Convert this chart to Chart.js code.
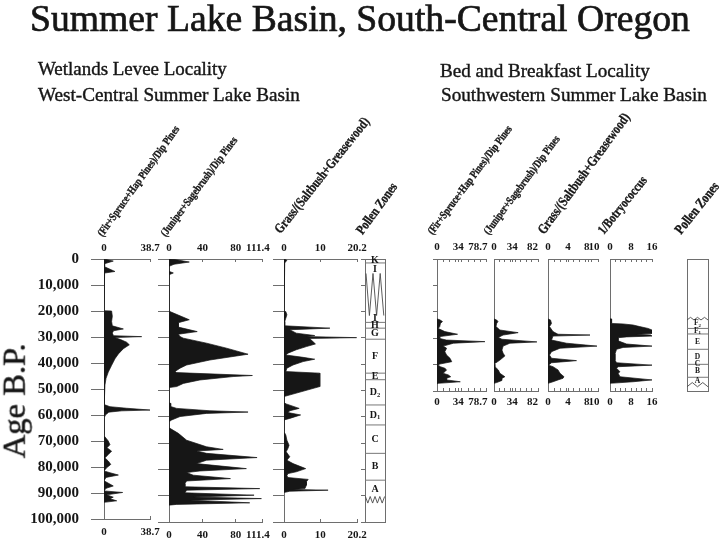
<!DOCTYPE html>
<html><head><meta charset="utf-8">
<script src="https://cdn.jsdelivr.net/npm/chart.js@4.4.1/dist/chart.umd.min.js"></script>
<style>
html,body{margin:0;padding:0;background:#fff;}
#wrap{position:relative;width:720px;height:540px;overflow:hidden;background:#fff;}
#wrap canvas{position:absolute;left:0;top:0;}
.t{position:absolute;white-space:nowrap;color:#161616;font-family:"Liberation Serif","Times New Roman",serif;line-height:1;}
</style></head>
<body><div id="wrap"></div>
<script>
// ---------------- DATA ----------------
const AGE_TICKS_L = [0,10000,20000,30000,40000,50000,60000,70000,80000,90000,100000];
const AGE_TICKS_R = [0,10000,20000,30000,40000,50000];

// Wetlands Levee: (Fir+Spruce+Hap Pines)/Dip Pines
const L1_AGE = [0,800,1800,3000,4800,5400,5800,19900,20000,22000,24000,25700,26900,27600,28500,29500,29860,30200,31000,32000,33000,34500,36500,38400,40900,43500,45900,48500,51000,56000,56800,57400,58100,58400,58900,60000,61200,68000,68900,70000,71400,72600,73900,75200,76500,77700,79000,80300,81500,82200,83100,84000,85300,87300,88200,89200,89800,90700,91600,92200,93000,93600];
const L1_VAL = [0,7.8,0.5,0.5,9.2,0.5,0,0,6.4,7.0,6.4,7.0,16.3,8,7,8,31.7,9,14,19,21.3,16.3,12.1,9.2,6.4,3.6,1.7,0.8,0.3,0,5,19,38.7,15,4,1.2,0,0,1.7,3.6,5.0,2.5,6.4,3.6,0.8,3.6,5.7,2.2,0,5,12.1,1.7,0,7.8,1.7,0,15.7,2.2,7.8,5,10.7,0];
const L1_TICKS = [0,38.7];
const L1_TICK_LABELS = ['0','38.7'];

// Wetlands Levee: (Juniper+Sagebrush)/Dip Pines
const L2_AGE = [0,300,1150,2000,2800,4700,5300,6000,19900,20000,23100,24200,25900,27600,28600,29500,30100,32000,33900,36200,38400,40300,41500,42800,43200,44300,44700,46000,47300,48500,48900,54500,54900,56100,56800,57700,58200,58700,59900,61200,61900,64300,64400,66300,68900,71400,72400,73000,73900,75500,76500,77800,79700,80600,81200,82200,83500,84400,85400,86600,87300,87900,88900,89800,90500,91100,91700,92700,93300,93600];
const L2_VAL = [0,9,24.3,6,0,0,5.2,0,0,1.2,24.3,11.2,11.2,33.8,11.2,13.2,17.2,45,68.9,94.7,49,21.1,13.2,7.2,9.2,99.9,76.8,37,17.2,9.2,0,0,2,2,9.2,49,94.7,45,13.2,3.2,0,0,1.2,11.2,21.1,45,64.9,33,45,105.5,45,33,92.7,37,21.1,29.1,73.6,21.1,19.1,19.1,108.7,21.1,19.1,101.9,29.1,110.7,25.1,96.7,9.2,0];
const L2_TICKS = [0,40,80,111.4];
const L2_TICK_LABELS = ['0','40','80','111.4'];

// Wetlands Levee: Grass/(Saltbush+Greasewood)
const L3_AGE = [0,500,1500,1800,19900,20000,21200,22500,23800,25400,26300,26900,28200,29100,29500,29900,30200,31400,32300,33300,34500,35800,36500,37400,38100,39000,40300,41500,42800,43400,48500,52300,54600,55100,56800,57700,58400,59300,60600,61200,65700,66900,68900,70800,72000,73300,75200,76500,77800,79700,80900,81600,82400,83100,83800,84700,86000,87300,87600,87900,88300,88800];
const L3_VAL = [0,0.8,0.2,0,0,0.5,0.8,0.5,0.2,0.2,12.7,1.6,3.4,8.5,6.2,20.1,7.1,8.0,8.7,6.2,3.4,1.1,0.5,5.3,8.5,5.3,2.5,0.8,0.5,9.9,9.9,0,0,0.6,4.2,1.6,1.1,4.6,1.6,0,0,0.5,0.8,1.4,1.1,0.6,1.6,0.8,2.5,6.0,3.4,1.1,0.8,1.1,6.7,6.2,6.2,5.8,2.5,12.2,1.6,0];
const L3_TICKS = [0,10,20.2];
const L3_TICK_LABELS = ['0','10','20.2'];

// Wetlands Levee pollen zones
const LZ_BOUNDS = [1500,24100,26300,30500,43400,45900,55500,63100,73900,84100];
const LZ_NAMES = ['K','I','I','H','G','F','E','D','D','C','B','A'];
const LZ_SUBS = ['','','','','','','','2','1','','',''];
const LZ_NAME_AGES = [700,4000,22700,25200,28400,36900,44600,50700,59300,68500,79000,87700];
const LZ_GAP_X = [0.05,0.22,0.40,0.58,0.76,0.94];
const LZ_GAP_AGE = [5500,21500,5500,21500,5500,21500];
const LZ_BASE_X = [0.02,0.14,0.26,0.38,0.5,0.62,0.74,0.86,0.98];
const LZ_BASE_AGE = [90300,92800,90300,92800,90300,92800,90300,92800,90300];

// Bed and Breakfast: (Fir+Spruce+Hap Pines)/Dip Pines
const R1_AGE = [22700,23000,23700,24400,25600,26300,27500,28500,29400,30100,30700,31300,31900,33000,33800,35100,36400,37600,38900,39800,40200,40800,41400,42000,43300,43900,44600,45200,45800,46500,47100,47300];
const R1_VAL = [0,4.4,8.8,5.5,4.4,2.0,12.6,33,4.4,4.4,15,77,26.4,9.9,15.4,12.6,15.4,20.9,23.7,4.4,2.0,5.5,12.6,15.4,9.9,18.2,22,15.4,15.4,37.4,1.6,0];
const R1_TICKS = [0,34,78.7];
const R1_TICK_LABELS = ['0','34','78.7'];
const R1_MINOR = [10,20,30,40,50,60,70];

// Bed and Breakfast: (Juniper+Sagebrush)/Dip Pines
const R2_AGE = [22700,23100,23700,24400,25600,26900,27900,28800,29700,30400,31400,31900,33000,34500,35700,36700,38300,39300,39800,40800,42000,43300,44600,45200,46000,46800,47100];
const R2_VAL = [0,4.9,7.4,5,3.7,11,45,17,8,14.8,80,29.6,17,14.8,17,20.3,11,3.7,0,1.8,8,11,20.3,15,14.8,5,0];
const R2_TICKS = [0,34,82];
const R2_TICK_LABELS = ['0','34','82'];
const R2_MINOR = [10,20,30,40,50,60,70];

// Bed and Breakfast: Grass/(Saltbush+Greasewood)
const R3_AGE = [22700,23100,24400,25600,27500,28500,28800,29200,30700,31900,33000,33800,35100,36400,37600,38500,39300,40200,40800,42000,43300,44600,45200,45800,46500,47100];
const R3_VAL = [0,0.5,0.7,0.3,1.0,2.0,8.4,1.0,0.7,3.7,9.8,2.4,0.7,0.3,0.7,5.7,0.7,0.1,1.0,2.0,2.4,3.2,3.0,2.0,1.0,0];
const R3_TICKS = [0,4,8,10];
const R3_TICK_LABELS = ['0','4','8','10'];
const R3_MINOR = [1.25,2.5,3.75,5,6.25,7.5,8.75];

// Bed and Breakfast: 1/Botryococcus
const R4_AGE = [22600,22700,24400,24600,25000,25600,26300,26900,28200,28500,28800,29200,29500,29800,31000,32200,33000,33500,34200,36000,38300,39300,40200,40800,41400,42700,43300,44600,45800,46500,47100];
const R4_VAL = [0,0.6,0.6,5,8.8,11.3,14.5,16,16,10,15.5,16,6.3,3.1,3.1,6.3,16,5,2.5,1.9,1.9,2.5,16,3.1,2.5,3.8,3.1,3.8,16,8.8,0];
const R4_TICKS = [0,8,16];
const R4_TICK_LABELS = ['0','8','16'];
const R4_MINOR = [2,4,6,10,12,14];

// Bed and Breakfast pollen zones
const RZ_BOUNDS = [26300,28400,34200,39900,44800];
const RZ_NAMES = ['F','F','E','D','C','B','A'];
const RZ_SUBS = ['2','1','','','','',''];
const RZ_NAME_AGES = [24400,27300,31300,37000,39900,42500,46300];
const RZ_TOP_X = [0,0.167,0.333,0.5,0.667,0.833,1];
const RZ_TOP_AGE = [23100,22100,23100,22100,23100,22100,23100];
const RZ_BOT_X = [0,0.25,0.5,0.75,1];
const RZ_BOT_AGE = [48400,46800,48400,46800,48400];

// ---------------- DRAWING ----------------
const wrap = document.getElementById('wrap');
const FONT = '"Liberation Serif", "Times New Roman", serif';
const INK = '#161616';
const AXIS = '#6e6e6e';

function newCanvas(){
  const c = document.createElement('canvas');
  c.width = 720; c.height = 540;
  c.style.width = '720px'; c.style.height = '540px';
  wrap.appendChild(c);
  return c;
}
function setTicks(values){ return s => { s.ticks = values.map(v => ({value: v})); }; }

function xAxis(p, pos){
  const isTop = pos === 'top';
  const shift = p.labelShift || {};
  const lab = new Map(p.tickVals.map((v,i) => [v, p.tickLabels[i] + ' '.repeat(shift[i] || 0)]));
  const all = p.minor ? p.tickVals.concat(p.minor).sort((a,b)=>a-b) : p.tickVals;
  return {
    type:'linear', position:pos, min:0, max:p.xmax,
    afterBuildTicks: setTicks(all),
    afterFit: s => { s.height = isTop ? p.top : 540 - p.bottom; },
    ticks:{autoSkip:false, maxRotation:0, minRotation:0, padding: isTop ? p.padTop : p.padBot,
      color:INK, font:{family:FONT, size:11, weight:'bold'},
      callback: v => lab.has(v) ? lab.get(v) : ''},
    grid:{drawOnChartArea:false, drawTicks:true, tickLength:-3, color:AXIS, lineWidth:1},
    border:{display:true, color:AXIS, width:1}
  };
}
function yAxis(p){
  return {
    type:'linear', position:'left', reverse:true, min:0, max:p.ymax,
    afterBuildTicks: setTicks(p.yTicks),
    afterFit: s => { s.width = p.left; },
    ticks:{display:!!p.yLabels, padding:12, color:INK, font:{family:FONT, size:15, weight:'bold'},
      callback: v => v.toLocaleString('en-US')},
    grid:{drawOnChartArea:false, drawTicks:p.yTick>0, tickLength:p.yTick||0, color:AXIS},
    border:{display:true, color:AXIS}
  };
}
function profile(p){
  const c = newCanvas();
  const data = p.ages.map((a,i) => ({x:p.vals[i], y:a}));
  return new Chart(c, {
    type:'line',
    data:{datasets:[{data, xAxisID:'x', yAxisID:'y', borderColor:INK, backgroundColor:INK,
      borderWidth:0.7, fill:'origin', pointRadius:0, tension:0}]},
    options:{
      indexAxis:'y', responsive:false, animation:false, devicePixelRatio:1,
      layout:{padding:{left:0, top:0, bottom:0, right:720 - p.right}},
      plugins:{legend:{display:false}, tooltip:{enabled:false}},
      scales:{x:xAxis(p,'top'), x2:xAxis(p,'bottom'), y:yAxis(p)}
    }
  });
}
function zones(p){
  const c = newCanvas();
  const ds = [];
  p.bounds.forEach(a => ds.push({data:[{x:0,y:a},{x:1,y:a}], borderColor:'#787878', borderWidth:1, pointRadius:0, fill:false}));
  p.zig.forEach(z => ds.push({data:z.x.map((x,i)=>({x, y:z.y[i]})), borderColor:'#4a4a4a', borderWidth:0.9, pointRadius:0, fill:false}));
  const labelPlugin = {id:'zoneLabels', afterDatasetsDraw(chart){
    const ctx = chart.ctx, xs = chart.scales.x, ys = chart.scales.y;
    ctx.save(); ctx.fillStyle = INK; ctx.textBaseline = 'middle';
    p.names.forEach((n,i) => {
      const py = ys.getPixelForValue(p.nameAges[i]);
      const cx = xs.getPixelForValue(0.5);
      ctx.font = 'bold ' + p.fs + 'px ' + FONT;
      const w1 = ctx.measureText(n).width;
      const sub = p.subs[i];
      let w2 = 0;
      if (sub){ ctx.font = 'bold ' + (p.fs*0.65) + 'px ' + FONT; w2 = ctx.measureText(sub).width; }
      const x0 = cx - (w1 + w2)/2;
      ctx.textAlign = 'left';
      ctx.font = 'bold ' + p.fs + 'px ' + FONT;
      ctx.fillText(n, x0, py);
      if (sub){ ctx.font = 'bold ' + (p.fs*0.65) + 'px ' + FONT; ctx.fillText(sub, x0 + w1, py + p.fs*0.25); }
    });
    ctx.restore();
  }};
  const frame = (pos, h) => ({type:'linear', position:pos, min:0, max:1, afterFit: s => { s.height = h; },
    ticks:{display:false}, grid:{drawOnChartArea:false, drawTicks:false}, border:{display:true, color:AXIS}});
  return new Chart(c, {
    type:'line',
    data:{datasets:ds},
    options:{
      responsive:false, animation:false, devicePixelRatio:1,
      layout:{padding:0},
      plugins:{legend:{display:false}, tooltip:{enabled:false}},
      scales:{
        x: frame('top', p.top),
        x2: frame('bottom', 540 - p.bottom),
        y: {type:'linear', position:'left', reverse:true, min:0, max:p.ymax,
            afterBuildTicks: setTicks(p.yTicks), afterFit: s => { s.width = p.left; },
            ticks:{display:false}, grid:{drawOnChartArea:false, drawTicks:p.yTick>0, tickLength:p.yTick||0, color:AXIS},
            border:{display:true, color:AXIS}},
        y2: {type:'linear', position:'right', reverse:true, min:0, max:p.ymax,
            afterFit: s => { s.width = 720 - p.right; },
            ticks:{display:false}, grid:{drawOnChartArea:false, drawTicks:false}, border:{display:true, color:AXIS}}
      }
    },
    plugins:[labelPlugin]
  });
}

const LT = {top:259, bottom:522, ymax:100000, yTicks:AGE_TICKS_L, padTop:7.4, padBot:9.4};
const RT = {top:259, bottom:391, ymax:50000, yTicks:AGE_TICKS_R, padTop:8.4, padBot:7.4};

profile(Object.assign({}, LT, {left:104, right:150, xmax:38.7, ages:L1_AGE, vals:L1_VAL, tickVals:L1_TICKS, tickLabels:L1_TICK_LABELS, yTick:13, yLabels:true}));
profile(Object.assign({}, LT, {left:169, right:262, xmax:111.4, ages:L2_AGE, vals:L2_VAL, tickVals:L2_TICKS, tickLabels:L2_TICK_LABELS, yTick:11, labelShift:{3:3}}));
profile(Object.assign({}, LT, {left:284, right:357, xmax:20.2, ages:L3_AGE, vals:L3_VAL, tickVals:L3_TICKS, tickLabels:L3_TICK_LABELS, yTick:11}));
zones(Object.assign({}, LT, {left:365, right:385, yTick:4, bounds:LZ_BOUNDS, names:LZ_NAMES, subs:LZ_SUBS, nameAges:LZ_NAME_AGES, fs:10,
  zig:[{x:LZ_GAP_X, y:LZ_GAP_AGE},{x:LZ_BASE_X, y:LZ_BASE_AGE}]}));

profile(Object.assign({}, RT, {left:437, right:486, xmax:78.7, ages:R1_AGE, vals:R1_VAL, tickVals:R1_TICKS, tickLabels:R1_TICK_LABELS, minor:R1_MINOR, yTick:4, labelShift:{2:6}}));
profile(Object.assign({}, RT, {left:494, right:538, xmax:82, ages:R2_AGE, vals:R2_VAL, tickVals:R2_TICKS, tickLabels:R2_TICK_LABELS, minor:R2_MINOR, yTick:0, labelShift:{2:4}}));
profile(Object.assign({}, RT, {left:548, right:598, xmax:10, ages:R3_AGE, vals:R3_VAL, tickVals:R3_TICKS, tickLabels:R3_TICK_LABELS, minor:R3_MINOR, yTick:0, labelShift:{2:1, 3:3}}));
profile(Object.assign({}, RT, {left:610, right:652, xmax:16, ages:R4_AGE, vals:R4_VAL, tickVals:R4_TICKS, tickLabels:R4_TICK_LABELS, minor:R4_MINOR, yTick:0}));
zones(Object.assign({}, RT, {left:687, right:708, yTick:0, bounds:RZ_BOUNDS, names:RZ_NAMES, subs:RZ_SUBS, nameAges:RZ_NAME_AGES, fs:7.5,
  zig:[{x:RZ_TOP_X, y:RZ_TOP_AGE},{x:RZ_BOT_X, y:RZ_BOT_AGE}]}));

// ---------------- TEXT ----------------
const mctx = document.createElement('canvas').getContext('2d');
function addText(str, o){
  const weight = o.weight || 'normal';
  const sq = o.squeeze || 1;
  mctx.font = weight + ' 100px ' + FONT;
  const fs = 100 * o.w / mctx.measureText(str).width / sq;
  const d = document.createElement('div');
  d.className = 't'; d.textContent = str;
  d.style.fontSize = fs + 'px'; d.style.fontWeight = weight;
  if (o.stroke) d.style.webkitTextStroke = o.stroke + 'px #161616';
  const asc = 0.8375 * fs;
  d.style.left = o.x + 'px'; d.style.top = (o.y - asc) + 'px';
  d.style.transformOrigin = '0px ' + asc + 'px';
  d.style.transform = 'rotate(' + (-(o.angle || 0)) + 'deg) scaleX(' + sq + ')';
  wrap.appendChild(d);
}
addText('Summer Lake Basin, South-Central Oregon', {x:30, y:32, w:660, stroke:0.7});
addText('Wetlands Levee Locality', {x:38, y:76, w:189, stroke:0.4});
addText('West-Central Summer Lake Basin', {x:38, y:101.5, w:262, stroke:0.4});
addText('Bed and Breakfast Locality', {x:440, y:77, w:210, stroke:0.4});
addText('Southwestern Summer Lake Basin', {x:441, y:101.5, w:266, stroke:0.4});
addText('Age B.P.', {x:25, y:458, w:115, angle:90, stroke:0.5});

const RL = 0.35, SQ = 0.8;
addText('(Fir+Spruce+Hap Pines)/Dip Pines', {x:103, y:237, w:133, angle:54.5, weight:'bold', stroke:RL, squeeze:SQ});
addText('(Juniper+Sagebrush)/Dip Pines', {x:166, y:237, w:121, angle:53.4, weight:'bold', stroke:RL, squeeze:SQ});
addText('Grass/(Saltbush+Greasewood)', {x:281, y:235, w:144, angle:51.5, weight:'bold', stroke:RL, squeeze:SQ});
addText('Pollen Zones', {x:363, y:235, w:60, angle:54, weight:'bold', stroke:RL, squeeze:SQ});
addText('(Fir+Spruce+Hap Pines)/Dip Pines', {x:433, y:235, w:133, angle:53.1, weight:'bold', stroke:RL, squeeze:SQ});
addText('(Juniper+Sagebrush)/Dip Pines', {x:489, y:235, w:120, angle:53.4, weight:'bold', stroke:RL, squeeze:SQ});
addText('Grass/(Saltbush+Greasewood)', {x:544, y:235, w:146, angle:53.8, weight:'bold', stroke:RL, squeeze:SQ});
addText('1/Botryococcus', {x:604, y:235, w:70, angle:51.3, weight:'bold', stroke:RL, squeeze:SQ});
addText('Pollen Zones', {x:681, y:235, w:62, angle:51.5, weight:'bold', stroke:RL, squeeze:SQ});
</script>
</body></html>
